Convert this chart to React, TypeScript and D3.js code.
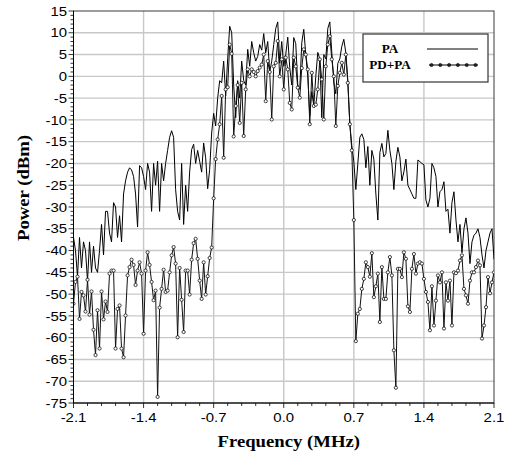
import React from "react";
import * as d3 from "d3";

// frequency grid of the spectrum analyser trace (MHz)
const freqStart = -2.1;
const freqStep = 0.02;

const xTickValues = [-2.1, -1.4, -0.7, 0.0, 0.7, 1.4, 2.1];
const yTickValues = [-75, -70, -65, -60, -55, -50, -45, -40, -35, -30, -25, -20, -15, -10, -5, 0, 5, 10, 15];

const seriesNames = ["PA", "PD+PA"];

// PA only (dBm)
const paPower = [
  -37, -40, -46, -37, -44, -38, -40, -47, -38, -45,
  -39, -44, -45, -40, -34, -41, -31, -31, -36, -38,
  -29, -30, -37, -32, -38, -27, -24, -22, -21, -21.5,
  -23, -27, -34.6, -20.5, -21, -23, -26, -20, -22, -31,
  -20, -25, -19.5, -31, -20, -24, -20, -17, -14, -12.5,
  -14, -26, -31, -33, -20, -34, -25, -31, -22, -16.8,
  -15.6, -20, -17, -19.5, -22, -15.3, -18.7, -25.8, -21.4, -13,
  -8.5, -11.4, -5, -1, -1.5, 3.5, -4.5, 4, 11.5, 10,
  -2, -9.5, -1, -5, 3.5, -1, -2, 6.2, 2.3, 8,
  5.4, 3.5, 4.6, 7.3, 6, 9.8, 5.4, 8, 1, 3.5,
  7.3, 11, 12.5, 3, 8, 2.3, 5, 9, 2, -2,
  8.9, 7.5, -2, -3, 7.7, 10.8, 5, 0, -9, -3.5,
  -6.8, 0, 5.5, 4, -9.5, 5, 4, 11, 12.5, 5.5,
  -1.5, -4, 3, 4, 6.9, 8.5, 5.4, -1, -11, -16,
  -19.6, -26, -20, -14, -13.2, -14.5, -21, -16.1, -25, -17,
  -19, -27, -33, -17.5, -15.4, -18.5, -17.7, -12.4, -17, -20,
  -26, -19.5, -16.3, -18.5, -24, -21.9, -19, -25, -26, -27,
  -28, -28, -19.2, -19.6, -20, -20.3, -28.4, -30, -28, -20,
  -21, -23, -30, -26.5, -26, -24.2, -31, -30.5, -36, -29,
  -26.5, -33, -38, -34, -40.5, -35, -32.5, -36, -43, -38,
  -36.5, -36, -35, -37, -41, -44, -40, -38, -36, -35, -42,
];

// predistorter + PA (dBm)
const pdPaPower = [
  -52.2, -47.2, -46, -55.7, -49.5, -50.3, -54, -46.7, -54.7, -49.4,
  -58.2, -64, -53.7, -62.5, -49.4, -55.8, -51.7, -54.1, -45.3, -44.6,
  -44.6, -62.5, -53.4, -52.6, -62.5, -64.5, -54.9, -45.7, -43.8, -42.1,
  -43.3, -47.9, -44.6, -42.7, -45.3, -59.1, -44.6, -40.4, -43.3, -47.2,
  -51.4, -49.2, -73.6, -53.1, -48.8, -44.4, -49.5, -49.2, -45, -41.1,
  -39.2, -43, -59.9, -44, -51.3, -58.7, -44.6, -44.6, -50.1, -42.1,
  -38.3, -37.3, -41.9, -46.9, -51.1, -42.7, -50.1, -45.9, -41.7, -39.3,
  -28, -19, -14.5, -11, -4.5, -18.7, -3, -2.5, 7.3, 5.2,
  -13.8, -6.8, -2, -10.7, -1.5, -13.7, -3, 1.6, 0, 1.6,
  1, 0, 1.2, 2, 2.7, 5, -5.7, 3.5, 1, -9.9,
  2.3, 3.1, 8.1, 0, 3.9, -3, 4.3, 1.6, -6.1, -7.6,
  4.3, 2.3, -2.6, -4.9, 1.9, 6.2, 5, 1.6, -11, 0.8,
  -6.8, -6.5, -3, 3.9, -0.7, -9.9, 2.3, 7.3, 9.2, 3.9,
  0, -11.4, -2.2, 0.8, 3.1, 0.4, 5, -1.5, -11, -17,
  -33, -60.8, -54.5, -53.4, -48.8, -46.5, -42.7, -43.8, -46, -40.6,
  -50.7, -48.2, -45.3, -56.4, -43.8, -51.1, -51.1, -45, -41.5, -45.7,
  -62.9, -71.5, -44.2, -44.2, -46.1, -40.4, -41.9, -52.8, -54.1, -44.2,
  -40.8, -45.3, -43, -42.7, -43, -46.5, -49.5, -51.8, -58.3, -48.2,
  -57.2, -51.5, -45.7, -47.3, -45, -57.9, -47.3, -51.5, -46.9, -57.2,
  -45, -45.2, -44.6, -42.3, -41.1, -48.8, -50.3, -52.2, -46.9, -45,
  -45, -43.8, -42.3, -43.4, -60.2, -57.2, -53, -46.1, -49.8, -47.3, -45,
];

const W = 505;
const H = 456;
const left = 73.5;
const right = 494;
const top = 11;
const bottom = 403;

const sans = "'Liberation Sans', Arial, sans-serif";
const serif = "'Liberation Serif', 'Times New Roman', serif";

export default function App() {
  const x = d3.scaleLinear().domain([-2.1, 2.1]).range([left, right]);
  const y = d3.scaleLinear().domain([-75, 15]).range([bottom, top]);

  const freqOf = (i: number) => freqStart + i * freqStep;

  const line = d3
    .line<number>()
    .x((d, i) => x(freqOf(i)))
    .y(d => y(d));

  // minor ticks: 5 per major on x, 1 dBm on y
  const xMinor = d3.range(0, 31).map(k => -2.1 + k * 0.14);
  const yMinor = d3.range(-75, 16, 1);

  // legend
  const lg = { x: 363, y: 34, w: 125, h: 48 };
  const legendDots = d3.range(6).map(k => 431.5 + k * 8.8);

  return (
    <svg
      width={W}
      height={H}
      style={{ position: "absolute", left: 0, top: 0, display: "block", background: "#fff" }}
    >
      <defs>
        <clipPath id="plot-clip">
          <rect x={left} y={top} width={right - left} height={bottom - top} />
        </clipPath>
      </defs>

      {/* grid */}
      <g stroke="#c8c8c8" strokeWidth={1.4}>
        {yTickValues.slice(1, -1).map(t => (
          <line key={"gy" + t} x1={left} x2={right} y1={y(t)} y2={y(t)} />
        ))}
        {xTickValues.slice(1, -1).map(t => (
          <line key={"gx" + t} x1={x(t)} x2={x(t)} y1={top} y2={bottom} />
        ))}
      </g>

      {/* frame */}
      <rect x={left} y={top} width={right - left} height={bottom - top} fill="none" stroke="#3a3a3a" strokeWidth={1} />

      {/* traces */}
      <g clipPath="url(#plot-clip)">
        <path d={line(paPower) || ""} fill="none" stroke="#000" strokeWidth={1} />
        <path d={line(pdPaPower) || ""} fill="none" stroke="#111" strokeWidth={1} />
        {pdPaPower.map((d, i) => (
          <circle key={i} cx={x(freqOf(i))} cy={y(d)} r={1.6} fill="#fff" stroke="#111" strokeWidth={0.8} />
        ))}
      </g>

      {/* y axis */}
      <line x1={left} x2={left} y1={top} y2={bottom} stroke="#000" />
      {yMinor.map(t => (
        <line key={"ym" + t} x1={left - (t % 5 === 0 ? 5 : 3)} x2={left} y1={y(t)} y2={y(t)} stroke="#000" strokeWidth={0.8} />
      ))}
      {yTickValues.map(t => (
        <text
          key={"yl" + t}
          transform={`translate(${left - 6.5},${y(t) + 4.7}) scale(1.15,1)`}
          textAnchor="end"
          fontFamily={sans}
          fontSize={13}
          fill="#000"
        >
          {String(t)}
        </text>
      ))}

      {/* x axis */}
      <line x1={left} x2={right} y1={bottom} y2={bottom} stroke="#000" />
      {xMinor.map((t, k) => (
        <line key={"xm" + k} x1={x(t)} x2={x(t)} y1={bottom} y2={bottom + (k % 5 === 0 ? 5 : 3)} stroke="#000" strokeWidth={0.8} />
      ))}
      {xTickValues.map(t => (
        <text
          key={"xl" + t}
          transform={`translate(${x(t)},${bottom + 18.5}) scale(1.15,1)`}
          textAnchor="middle"
          fontFamily={sans}
          fontSize={13}
          fill="#000"
        >
          {t.toFixed(1)}
        </text>
      ))}

      {/* axis titles */}
      <text
        transform={`translate(${(left + right) / 2 + 5},447) scale(1.1,1)`}
        textAnchor="middle"
        fontFamily={serif}
        fontWeight="bold"
        fontSize={17}
      >
        Frequency (MHz)
      </text>
      <text
        transform={`translate(29,188) rotate(-90) scale(1.1,1)`}
        textAnchor="middle"
        fontFamily={serif}
        fontWeight="bold"
        fontSize={17}
      >
        Power (dBm)
      </text>

      {/* legend */}
      <rect x={lg.x} y={lg.y} width={lg.w} height={lg.h} fill="#fff" stroke="#333" strokeWidth={1.2} />
      <text transform={`translate(390,52.5) scale(1.1,1)`} textAnchor="middle" fontFamily={serif} fontWeight="bold" fontSize={12}>
        {seriesNames[0]}
      </text>
      <text transform={`translate(390,68.5) scale(1.1,1)`} textAnchor="middle" fontFamily={serif} fontWeight="bold" fontSize={12}>
        {seriesNames[1]}
      </text>
      <line x1={427} x2={478} y1={49} y2={49} stroke="#000" strokeWidth={1} />
      <line x1={429} x2={478} y1={65} y2={65} stroke="#000" strokeWidth={1} />
      {legendDots.map((cx, k) => (
        <circle key={"ld" + k} cx={cx} cy={65} r={1.6} fill="#222" stroke="#000" strokeWidth={0.6} />
      ))}
    </svg>
  );
}
